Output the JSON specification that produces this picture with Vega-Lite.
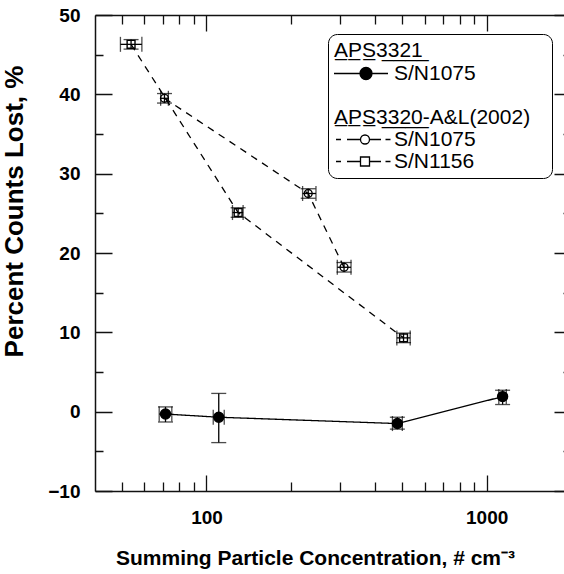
{
  "$schema": "https://vega.github.io/schema/vega-lite/v6.json",
  "width": 476,
  "height": 476,
  "autosize": "none",
  "padding": {"left": 95, "top": 15, "right": 0, "bottom": 83},
  "background": "white",
  "config": {
    "font": "Liberation Sans",
    "view": {"stroke": null},
    "axis": {
      "zindex": 1,
      "domainColor": "#111111",
      "domainWidth": 1.5,
      "gridColor": "#111111",
      "gridWidth": 1.3,
      "gridOpacity": 1,
      "labelFont": "Liberation Sans",
      "labelFontSize": 19,
      "labelFontWeight": "bold",
      "labelColor": "black",
      "titleFont": "Liberation Sans",
      "titleFontSize": 21,
      "titleFontWeight": "bold",
      "titleColor": "black",
      "labelOverlap": false,
      "labelFlush": false
    }
  },
  "datasets": {
    "pts": [
      {"series": "a", "x": 71.4, "y": -0.3, "xlo": 67.8, "xhi": 75.2, "ylo": -1.3, "yhi": 0.6},
      {"series": "a", "x": 110.6, "y": -0.7, "xlo": 105.7, "xhi": 115.7, "ylo": -3.9, "yhi": 2.3},
      {"series": "a", "x": 480, "y": -1.5, "xlo": 461, "xhi": 500, "ylo": -2.2, "yhi": -0.7},
      {"series": "a", "x": 1140, "y": 1.9, "xlo": 1105, "xhi": 1175, "ylo": 0.9, "yhi": 2.7},
      {"series": "d", "x": 70.8, "y": 39.5, "xlo": 68.6, "xhi": 73.1, "ylo": 38.9, "yhi": 40.1},
      {"series": "d", "x": 230.7, "y": 27.5, "xlo": 220.3, "xhi": 245.9, "ylo": 26.9, "yhi": 28.1},
      {"series": "d", "x": 309.7, "y": 18.2, "xlo": 293, "xhi": 328, "ylo": 17.6, "yhi": 18.8},
      {"series": "e", "x": 53.8, "y": 46.3, "xlo": 49.3, "xhi": 58.8, "ylo": 45.7, "yhi": 46.9},
      {"series": "e", "x": 129.7, "y": 25.1, "xlo": 123.8, "xhi": 135.1, "ylo": 24.5, "yhi": 25.7},
      {"series": "e", "x": 505, "y": 9.3, "xlo": 478, "xhi": 533.4, "ylo": 8.7, "yhi": 9.9}
    ]
  },
  "resolve": {
    "axis": {"x": "independent", "y": "independent"},
    "scale": {"shape": "independent", "fill": "independent", "stroke": "independent"}
  },
  "layer": [
    {
      "data": {"name": "pts"},
      "layer": [
        {
          "mark": {"type": "line", "color": "black", "strokeWidth": 1.3},
          "encoding": {
            "x": {
              "field": "x", "type": "quantitative",
              "scale": {"type": "log", "domain": [40, 2000], "nice": false},
              "axis": {
                "orient": "bottom",
                "values": [100, 1000],
                "format": "d",
                "ticks": false,
                "grid": true,
                "gridDash": [16, 444],
                "labelPadding": 17,
                "title": "Summing Particle Concentration, # cm⁻³",
                "titleX": 220,
                "titleY": 73,
                "titleBaseline": "alphabetic"
              }
            },
            "y": {
              "field": "y", "type": "quantitative",
              "scale": {"domain": [-10, 50], "nice": false, "zero": false},
              "axis": {
                "orient": "left",
                "values": [-10, 0, 10, 20, 30, 40, 50],
                "ticks": false,
                "grid": true,
                "gridDash": [17, 442],
                "labelPadding": 15,
                "title": "Percent Counts Lost, %",
                "titleFontSize": 26,
                "titleX": -73,
                "titleY": 196,
                "titleBaseline": "alphabetic"
              }
            },
            "detail": {"field": "series", "type": "nominal"},
            "strokeDash": {
              "field": "series", "type": "nominal",
              "scale": {"domain": ["a", "d", "e"], "range": [[1, 0], [7, 6], [7, 6]]},
              "legend": null
            }
          }
        },
        {
          "mark": {"type": "rule", "color": "black", "strokeWidth": 1.3},
          "encoding": {
            "x": {"field": "xlo", "type": "quantitative"},
            "x2": {"field": "xhi"},
            "y": {"field": "y", "type": "quantitative"}
          }
        },
        {
          "mark": {"type": "rule", "color": "black", "strokeWidth": 1.3},
          "encoding": {
            "x": {"field": "x", "type": "quantitative"},
            "y": {"field": "ylo", "type": "quantitative"},
            "y2": {"field": "yhi"}
          }
        },
        {
          "transform": [{"fold": ["xlo", "xhi"], "as": ["k", "xc"]}],
          "mark": {"type": "tick", "orient": "vertical", "color": "black", "size": 15, "thickness": 1.3},
          "encoding": {
            "x": {"field": "xc", "type": "quantitative"},
            "y": {"field": "y", "type": "quantitative"}
          }
        },
        {
          "transform": [{"fold": ["ylo", "yhi"], "as": ["k", "yc"]}],
          "mark": {"type": "tick", "orient": "horizontal", "color": "black", "size": 15, "thickness": 1.3},
          "encoding": {
            "x": {"field": "x", "type": "quantitative"},
            "y": {"field": "yc", "type": "quantitative"}
          }
        },
        {
          "mark": {"type": "point", "stroke": "black", "strokeWidth": 1.4, "opacity": 1},
          "encoding": {
            "x": {"field": "x", "type": "quantitative"},
            "y": {"field": "y", "type": "quantitative"},
            "shape": {
              "field": "series", "type": "nominal",
              "scale": {"domain": ["a", "d", "e"], "range": ["circle", "circle", "square"]},
              "legend": null
            },
            "fill": {"condition": {"test": "datum.series === 'a'", "value": "black"}, "value": "transparent"},
            "size": {"condition": {"test": "datum.series === 'a'", "value": 100}, "value": 62}
          }
        }
      ]
    },
    {
      "data": {"name": "pts"},
      "mark": {"type": "point", "opacity": 0},
      "encoding": {
        "x": {
          "field": "x", "type": "quantitative",
          "scale": {"type": "log", "domain": [40, 2000], "nice": false},
          "axis": {"orient": "bottom", "values": [50, 60, 70, 80, 90, 200, 300, 400, 500, 600, 700, 800, 900, 2000], "labels": false, "ticks": false, "domain": false, "grid": true, "gridDash": [9, 458], "title": null}
        },
        "y": {
          "field": "y", "type": "quantitative",
          "scale": {"domain": [-10, 50], "nice": false, "zero": false},
          "axis": {"orient": "left", "values": [-5, 5, 15, 25, 35, 45], "labels": false, "ticks": false, "domain": false, "grid": true, "gridDash": [8, 460], "title": null}
        }
      }
    },
    {
      "data": {"name": "pts"},
      "mark": {"type": "point", "opacity": 0},
      "encoding": {
        "x": {
          "field": "x", "type": "quantitative",
          "scale": {"type": "log", "domain": [40, 2000], "nice": false},
          "axis": {"orient": "top", "values": [], "labels": false, "ticks": false, "domain": true, "grid": false, "title": null}
        },
        "y": {
          "field": "y", "type": "quantitative",
          "scale": {"domain": [-10, 50], "nice": false, "zero": false},
          "axis": {"orient": "right", "values": [], "labels": false, "ticks": false, "domain": true, "grid": false, "title": null}
        }
      }
    },
    {
      "data": {"name": "pts"},
      "transform": [{"filter": "false"}],
      "mark": {"type": "point", "filled": false, "opacity": 1},
      "encoding": {
        "fill": {
          "field": "series", "type": "nominal",
          "scale": {"domain": ["a", "b", "c", "d", "e"], "range": ["black", "transparent", "transparent", "transparent", "transparent"]}
        },
        "stroke": {
          "field": "series", "type": "nominal",
          "scale": {"domain": ["a", "b", "c", "d", "e"], "range": ["black", "black", "black", "black", "black"]}
        },
        "shape": {
          "field": "series", "type": "nominal",
          "scale": {
            "domain": ["a", "b", "c", "d", "e"],
            "range": [
              "M-2.1,0L8.7,0M3.1,0A1.2,1.2 0 1,0 5.5,0A1.2,1.2 0 1,0 3.1,0Z",
              "M0,0Z",
              "M0,0Z",
              "M-1.7,0L-0.7,0M0.5,0L3.2,0M5,0L7.3,0M8.2,0L9.2,0M3.2,0A0.9,0.9 0 1,0 5,0A0.9,0.9 0 1,0 3.2,0Z",
              "M-1.7,0L-0.7,0M0.5,0L3.2,0M5,0L7.3,0M8.2,0L9.2,0M3.2,-0.9L5,-0.9L5,0.9L3.2,0.9Z"
            ]
          },
          "legend": {
            "title": "A\u0332P\u0332S\u03323\u03323\u03322\u03321\u0332",
            "orient": "top-right",
            "offset": 19,
            "strokeColor": "black",
            "fillColor": "white",
            "cornerRadius": 9,
            "padding": 6,
            "titleFont": "Liberation Sans",
            "titleFontSize": 21,
            "titleFontWeight": "normal",
            "titleColor": "black",
            "titlePadding": 2,
            "labelFont": "Liberation Sans",
            "labelFontSize": 21,
            "labelColor": "black",
            "labelLimit": 400,
            "labelOffset": -21,
            "rowPadding": 0,
            "symbolSize": 100,
            "symbolStrokeWidth": 1.3,
            "symbolOpacity": 1,
            "labelExpr": "datum.value === 'a' ? '\u2800\u2800\u2800\u2800S/N1075' : datum.value === 'b' ? '' : datum.value === 'c' ? 'A\u0332P\u0332S\u03323\u03323\u03322\u03320\u0332-A&L(2002)\u2800' : datum.value === 'd' ? '\u2800\u2800\u2800\u2800S/N1075' : '\u2800\u2800\u2800\u2800S/N1156'"
          }
        }
      }
    }
  ]
}
